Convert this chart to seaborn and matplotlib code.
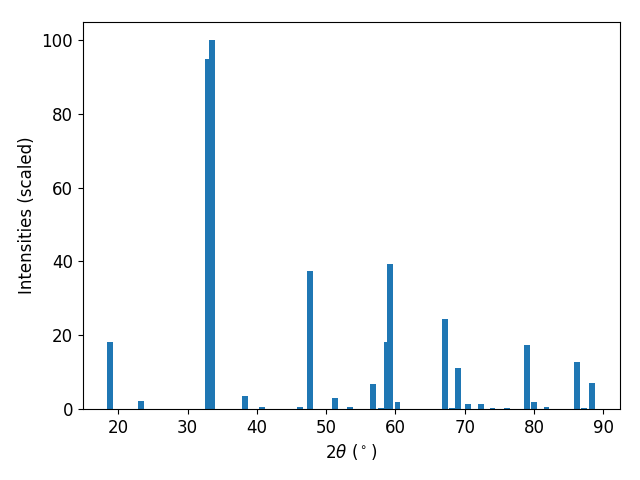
import numpy as np
import pandas as pd
import seaborn as sns
import matplotlib
matplotlib.use('Agg')
import matplotlib.pyplot as plt

two_theta = [18.85, 23.3, 32.95, 33.55, 38.25, 40.8, 46.2, 47.7, 51.3, 53.4,
             56.7, 57.9, 58.7, 59.2, 60.3, 67.2, 68.2, 69.05, 70.5, 72.4,
             74.0, 76.1, 79.0, 80.0, 81.8, 86.2, 87.2, 88.35]
intensity = [18.2, 2.2, 94.8, 100.0, 3.5, 0.6, 0.5, 37.4, 3.0, 0.6,
             6.8, 0.2, 18.2, 39.3, 1.9, 24.4, 0.3, 11.1, 1.4, 1.4,
             0.3, 0.3, 17.3, 2.0, 0.6, 12.7, 0.3, 7.0]

df = pd.DataFrame({'two_theta': two_theta, 'intensity': intensity})

plt.rcParams['font.size'] = 12

fig, ax = plt.subplots(figsize=(6.4, 4.8), dpi=100)

# native_scale width is relative to the smallest spacing between peaks
min_gap = np.min(np.diff(np.sort(df['two_theta'].values)))
sns.barplot(data=df, x='two_theta', y='intensity', native_scale=True,
            width=0.85 / min_gap, color='#1f77b4', saturation=1,
            linewidth=0, errorbar=None, ax=ax)

ax.set_xlim(14.86, 92.41)
ax.set_ylim(0, 105)
ax.set_xticks([20, 30, 40, 50, 60, 70, 80, 90])
ax.set_xlabel(r'2$\theta$ ($^\circ$)')
ax.set_ylabel('Intensities (scaled)')

fig.subplots_adjust(left=0.1292, right=0.9688, top=0.9548, bottom=0.1479)
plt.savefig('out.png')
